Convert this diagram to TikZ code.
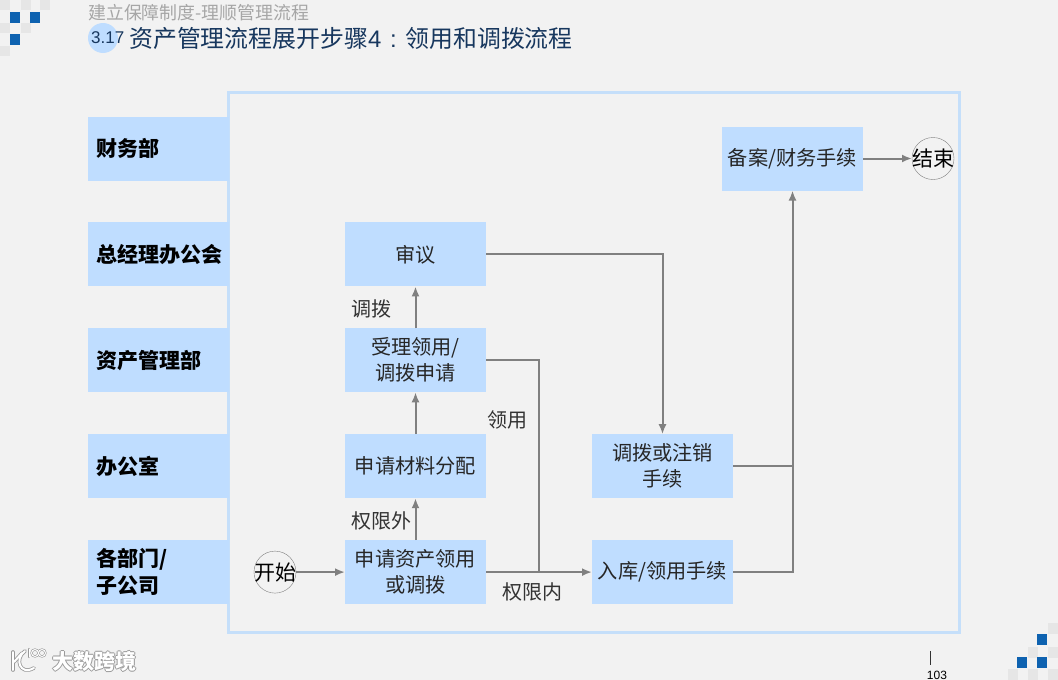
\documentclass[tikz,border=0pt]{standalone}
\usepackage{fontspec}
\setmainfont{Noto Sans CJK SC}
\newfontfamily\latinsans{Liberation Sans}
\definecolor{bgpage}{RGB}{242,242,242}
\definecolor{boxblue}{RGB}{191,221,255}
\definecolor{framblue}{RGB}{197,223,250}
\definecolor{arrowgray}{RGB}{128,128,128}
\definecolor{titlenavy}{RGB}{23,55,94}
\definecolor{squareblue}{RGB}{14,98,176}
\definecolor{squaregray}{RGB}{230,230,230}
\usetikzlibrary{arrows.meta,positioning}
\tikzset{
    dept/.style={
        fill=boxblue, minimum width=141pt, minimum height=64pt, inner sep=0pt, outer sep=0pt,
        text width=125pt, align=left, font=\fontsize{21}{27}\selectfont\bfseries
    },
    stepbox/.style={
        fill=boxblue, minimum width=141pt, minimum height=64pt, inner sep=0pt, outer sep=0pt,
        align=center, font=\fontsize{20.2}{26}\selectfont, text=black!85
    },
    endpoint/.style={
        circle, draw=arrowgray, minimum size=42pt, inner sep=0pt, outer sep=0pt,
        font=\fontsize{21}{24}\selectfont
    },
    flowlabel/.style={font=\fontsize{20}{24}\selectfont, text=black!80},
    arrow/.style={
        -{Latex[length=10pt,width=8pt]}, line width=2pt, draw=arrowgray
    },
    flowline/.style={line width=2pt, draw=arrowgray},
    logoline/.style={line width=#1, line cap=round}
}
\begin{document}
\begin{tikzpicture}[x=1pt,y=-1pt,node distance=41.9pt]
\fill[bgpage](0,0)rectangle(1058,680);
\useasboundingbox(0,0)rectangle(1058,680);
% corner squares
\foreach \x/\y in {0/0,21/0,40/0,0/23,21/23,0/46}
  \fill[squaregray](\x,\y)rectangle++(10,10);
\foreach \x/\y in {10/12,30/12,10/34}
  \fill[squareblue](\x,\y)rectangle++(10,11);
\foreach \x/\y in {1048/623,1028/647,1048/647,1008/669,1028/669,1048/669}
  \fill[squaregray](\x,\y)rectangle++(10,11);
\foreach \x/\y in {1037/634,1017/657,1037/657}
  \fill[squareblue](\x,\y)rectangle++(10,11);
% heading
\fill[boxblue](103,38)circle(15);
\node[anchor=west,inner sep=0pt,text=black!35,font=\fontsize{17.9}{20}\selectfont]
  (subtitle) at (88,13) {建立保障制度-理顺管理流程};
\node[anchor=west,inner sep=0pt,text=titlenavy,font=\latinsans\fontsize{17}{20}\selectfont]
  (number) at (91,38) {3.17};
\node[anchor=west,inner sep=0pt,text=titlenavy,font=\fontsize{23.9}{28}\selectfont]
  (title) at (129,38) {资产管理流程展开步骤{\latinsans 4}\makebox[24pt]{\latinsans :}领用和调拨流程};
% frame
\draw[framblue,line width=3pt](228,92)rectangle(959.5,632);
% departments
\node[dept] (dept1) at (158.5,148.5) {财务部};
\node[dept, below=of dept1] (dept2) {总经理办公会};
\node[dept, below=of dept2] (dept3) {资产管理部};
\node[dept, below=of dept3] (dept4) {办公室};
\node[dept, below=of dept4] (dept5) {各部门/\\子公司};
% steps
\node[stepbox, right=116pt of dept5] (apply) {申请资产领用\\或调拨};
\node[stepbox, right=116pt of dept4] (assign) {申请材料分配};
\node[stepbox, right=116pt of dept3] (accept) {受理领用/\\调拨申请};
\node[stepbox, right=116pt of dept2] (review) {审议};
\node[stepbox, right=106pt of assign] (transfer) {调拨或注销\\手续};
\node[stepbox, right=106pt of apply] (stock) {入库/领用手续};
\node[stepbox, right=493pt of dept1, yshift=-10pt] (record) {备案/财务手续};
\node[endpoint, left=49pt of apply] (start) {\makebox[0pt]{开始}};
\node[endpoint, right=49pt of record] (finish) {\makebox[0pt]{结束}};
\coordinate (junction) at (apply.east-|539,0);
% connectors
\draw[arrow](start)--(apply);
\draw[arrow](apply)--(assign);
\draw[arrow](assign)--(accept);
\draw[arrow](accept)--(review);
\draw[arrow](apply)--(stock);
\draw[arrow](review.east)-|(transfer.north);
\draw[flowline](accept.east)-|(junction);
\draw[arrow](stock.east)-|(record.south);
\draw[flowline](transfer.east)--(transfer.east-|record.south);
\draw[arrow](record)--(finish);
% labels
\node[flowlabel] (lbl1) at (371,309) {调拨};
\node[flowlabel] (lbl2) at (507,420) {领用};
\node[flowlabel] (lbl3) at (381,521) {权限外};
\node[flowlabel] (lbl4) at (532,592) {权限内};
% footer
\draw[black!80,line width=1pt](930,651)--(930,665);
\node[inner sep=0pt,font=\latinsans\fontsize{12}{14}\selectfont] (page) at (937,675) {103};
\foreach \dx/\dy in {-1/0,1/0,0/-1,0/1}
  \node[inner sep=0pt,text=black!40,font=\fontsize{21}{24}\selectfont\bfseries]
    at (94.5+\dx,661+\dy) {大数跨境};
\node[inner sep=0pt,text=white,font=\fontsize{21}{24}\selectfont\bfseries] (brand) at (94.5,661) {大数跨境};
% logo
\foreach \col/\wd in {black!40/3.6pt,white/2pt}{
  \draw[\col,logoline=\wd](13,652)--(13,670);
  \draw[\col,logoline=\wd](25,651)..controls(14,659)and(20,676)..(34,668);
  \draw[\col,logoline=\wd](14,662)--(22,653);
}
\foreach \col/\wd in {black!40/2.2pt,white/1pt}{
  \draw[\col,logoline=\wd](29,649)--(29,657);
  \draw[\col,logoline=\wd](35,653)circle(3.5);
  \draw[\col,logoline=\wd](42,653)circle(3.5);
}
\end{tikzpicture}
\end{document}
